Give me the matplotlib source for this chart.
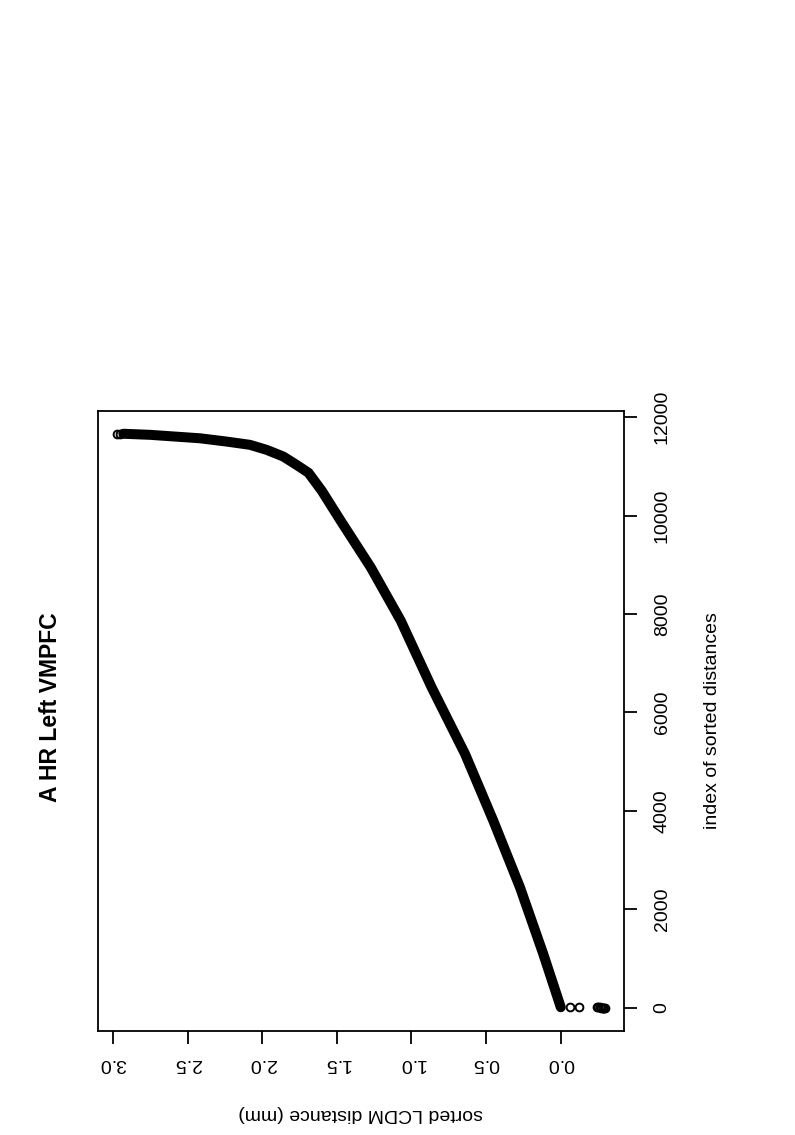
import matplotlib
matplotlib.use("Agg")
import matplotlib.pyplot as plt

outlier_index = [1, 2, 3, 4, 5, 6, 7, 8, 9, 10]
outlier_dist = [-0.293, -0.29, -0.285, -0.28, -0.27, -0.26, -0.25, -0.24, -0.125, -0.065]

curve_index = [11, 150, 1091, 2445, 3801, 5156, 6510, 7866, 8949, 9898,
               10500, 10870, 11030, 11200, 11335, 11437, 11504, 11570, 11640, 11662]
curve_dist = [0.0, 0.015, 0.117, 0.273, 0.452, 0.641, 0.865, 1.072, 1.273, 1.475,
              1.6, 1.69, 1.77, 1.859, 1.97, 2.082, 2.24, 2.417, 2.75, 2.93]

tip_index = [11664, 11665]
tip_dist = [2.95, 2.97]

dist_ticks = [0.0, 0.5, 1.0, 1.5, 2.0, 2.5, 3.0]
index_ticks = [0, 2000, 4000, 6000, 8000, 10000, 12000]

plt.rcParams['font.family'] = ['Liberation Sans', 'DejaVu Sans']

fig = plt.figure(figsize=(7.95, 11.35), dpi=100)
ax = fig.add_axes([0.1231, 0.0919, 0.6618, 0.5463])

# dense run of points drawn as a thick band, sparse ends as open circles
ax.plot(curve_dist, curve_index, color='black', lw=7.2, solid_capstyle='round',
        solid_joinstyle='round')
ax.plot(outlier_dist, outlier_index, ls='none', marker='o', ms=5.6, mfc='none',
        mec='black', mew=1.4)
ax.plot(tip_dist, tip_index, ls='none', marker='o', ms=5.6, mfc='none',
        mec='black', mew=1.4)

# R style axis ranges (4% padding)
all_d = outlier_dist + curve_dist + tip_dist
all_i = outlier_index + curve_index + tip_index
dpad = (max(all_d) - min(all_d)) * 0.04
ipad = (max(all_i) - min(all_i)) * 0.04
ax.set_xlim(max(all_d) + dpad, min(all_d) - dpad)
ax.set_ylim(min(all_i) - ipad, max(all_i) + ipad)

for s in ax.spines.values():
    s.set_linewidth(1.3)

ax.yaxis.tick_right()
ax.yaxis.set_label_position('right')
ax.set_xticks(dist_ticks)
ax.set_xticklabels([f'{v:.1f}' for v in dist_ticks])
ax.set_yticks(index_ticks)
ax.set_yticklabels([str(v) for v in index_ticks])
ax.tick_params(axis='x', length=9.4, width=1.3, pad=8, labelsize=14,
               labelrotation=180)
ax.tick_params(axis='y', length=9.4, width=1.3, pad=12, labelsize=14,
               labelrotation=90)
for lab in ax.get_yticklabels():
    lab.set_verticalalignment('center')

ax.set_xlabel('sorted LCDM distance (mm)', fontsize=14, rotation=180, labelpad=24)
ax.set_ylabel('index of sorted distances', fontsize=14, rotation=90, labelpad=24)

fig.text(51 / 795, 1 - 707 / 1135, 'A HR Left VMPFC', rotation=90, fontsize=16.5,
         fontweight='bold', ha='center', va='center')

fig.savefig('out.png', dpi=100)
